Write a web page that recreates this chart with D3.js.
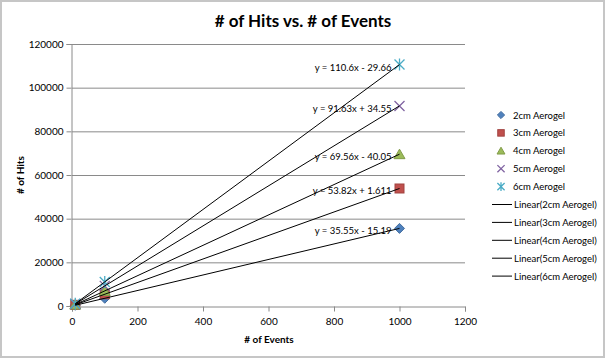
<!DOCTYPE html>
<html><head><meta charset="utf-8">
<script src="https://cdn.jsdelivr.net/npm/d3@7"></script>
<style>
body{margin:0;background:#fff;}
text{font-family:Lato,"Liberation Sans",sans-serif;}
</style></head>
<body><svg id="c" width="606" height="360"></svg>
<script>
const xEvents = [10, 100, 1000];
const seriesNames = ["2cm Aerogel","3cm Aerogel","4cm Aerogel","5cm Aerogel","6cm Aerogel"];
const hits2 = [340, 3540, 35540];
const hits3 = [540, 5390, 53820];
const hits4 = [660, 6920, 69540];
const hits5 = [950, 9200, 91640];
const hits6 = [1080, 11030, 110590];
const slopes = [35.55, 53.82, 69.56, 91.63, 110.6];
const intercepts = [-15.19, 1.611, -40.05, 34.55, -29.66];
const eqLabels = ["y = 35.55x - 15.19","y = 53.82x + 1.611","y = 69.56x - 40.05","y = 91.63x + 34.55","y = 110.6x - 29.66"];
const xTicks = [0,200,400,600,800,1000,1200];
const yTicks = [0,20000,40000,60000,80000,100000,120000];
const colors = ["#4f81bd","#c0504d","#9bbb59","#8064a2","#4bacc6"];
const shapes = ["diamond","square","triangle","x","star"];
const allHits = [hits2,hits3,hits4,hits5,hits6];

const svg = d3.select("#c");
svg.append("rect").attr("x",1).attr("y",1).attr("width",603).attr("height",356)
  .attr("fill","#fff").attr("stroke","#c6c6c6").attr("stroke-width",2);

const x = d3.scaleLinear().domain([0,1200]).range([72,465]);
const y = d3.scaleLinear().domain([0,120000]).range([306,44]);

svg.append("g").selectAll("line").data(yTicks.slice(1)).join("line")
  .attr("x1",x(0)).attr("x2",x(1200)).attr("y1",d=>y(d)+0.5).attr("y2",d=>y(d)+0.5)
  .attr("stroke","#8a8a8a").attr("stroke-width",1);

const yAxis = svg.append("g").attr("transform",`translate(${x(0)-0.5},0)`)
  .call(d3.axisLeft(y).tickValues(yTicks).tickFormat(d3.format("d")).tickSize(5).tickPadding(3));
const xAxis = svg.append("g").attr("transform",`translate(0,${y(0)+0.5})`)
  .call(d3.axisBottom(x).tickValues(xTicks).tickFormat(d3.format("d")).tickSize(5).tickPadding(6));
[yAxis,xAxis].forEach(a=>{
  a.selectAll("path,line").attr("stroke","#8a8a8a");
  a.selectAll("text").attr("font-size",10).attr("fill","#000").attr("font-family","Lato,sans-serif");
});

svg.append("text").attr("x",303).attr("y",27).attr("text-anchor","middle")
  .attr("font-size",17).attr("font-weight","bold").text("# of Hits vs. # of Events");
svg.append("text").attr("x",269).attr("y",343).attr("text-anchor","middle")
  .attr("font-size",10).attr("font-weight","bold").text("# of Events");
svg.append("text").attr("transform","translate(24,175) rotate(-90)").attr("text-anchor","middle")
  .attr("font-size",10).attr("font-weight","bold").text("# of Hits");

function marker(g, shape, color, cx, cy, s){
  const k = s/5;
  if(shape==="diamond"){
    g.append("path").attr("d",`M${cx},${cy-5*k}L${cx+5*k},${cy}L${cx},${cy+5*k}L${cx-5*k},${cy}Z`)
      .attr("fill",color).attr("stroke",d3.color(color).darker(0.5));
  } else if(shape==="square"){
    g.append("rect").attr("x",cx-4.5*k).attr("y",cy-4.5*k).attr("width",9*k).attr("height",9*k)
      .attr("fill",color).attr("stroke",d3.color(color).darker(0.5));
  } else if(shape==="triangle"){
    g.append("path").attr("d",`M${cx},${cy-5*k}L${cx+5.5*k},${cy+4.5*k}L${cx-5.5*k},${cy+4.5*k}Z`)
      .attr("fill",color).attr("stroke",d3.color(color).darker(0.5));
  } else if(shape==="x"){
    g.append("path").attr("d",`M${cx-5*k},${cy-5*k}L${cx+5*k},${cy+5*k}M${cx-5*k},${cy+5*k}L${cx+5*k},${cy-5*k}`)
      .attr("stroke",color).attr("stroke-width",1.3).attr("fill","none");
  } else {
    g.append("path").attr("d",`M${cx-5*k},${cy-5*k}L${cx+5*k},${cy+5*k}M${cx-5*k},${cy+5*k}L${cx+5*k},${cy-5*k}M${cx},${cy-6*k}L${cx},${cy+6*k}`)
      .attr("stroke",color).attr("stroke-width",1.3).attr("fill","none");
  }
}

const pts = svg.append("g");
allHits.forEach((h,i)=>{
  h.forEach((v,j)=>marker(pts, shapes[i], colors[i], x(xEvents[j]), y(v), 5));
});

const tl = svg.append("g");
slopes.forEach((m,i)=>{
  const x0 = d3.min(xEvents), x1 = d3.max(xEvents);
  tl.append("line").attr("x1",x(x0)).attr("y1",y(m*x0+intercepts[i]))
    .attr("x2",x(x1)).attr("y2",y(m*x1+intercepts[i]))
    .attr("stroke","#000").attr("stroke-width",1);
});

slopes.forEach((m,i)=>{
  const xv = d3.max(xEvents);
  svg.append("text").attr("x",x(xv)-8).attr("y",y(m*xv+intercepts[i])+6)
    .attr("text-anchor","end").attr("font-size",9.5).text(eqLabels[i]);
});

const lg = svg.append("g");
seriesNames.forEach((n,i)=>{
  const ly = 115 + i*17.9;
  marker(lg, shapes[i], colors[i], 501, ly, 3.6);
  lg.append("text").attr("x",513).attr("y",ly+3.5).attr("font-size",9.5).text(n);
});
seriesNames.forEach((n,i)=>{
  const ly = 115 + (i+5)*17.9;
  lg.append("line").attr("x1",492).attr("x2",512).attr("y1",ly).attr("y2",ly).attr("stroke","#000");
  lg.append("text").attr("x",514).attr("y",ly+3.5).attr("font-size",9.5).text("Linear(" + n + ")");
});
</script></body></html>
